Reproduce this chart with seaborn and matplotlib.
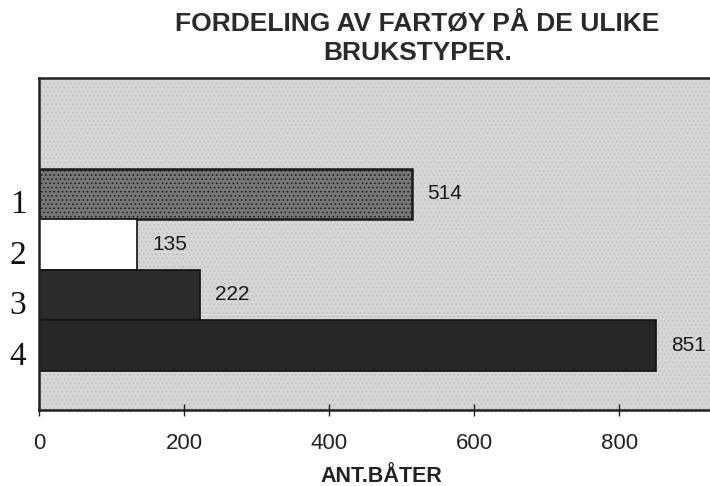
import matplotlib
matplotlib.use("Agg")
import matplotlib.pyplot as plt
from matplotlib.patches import Rectangle
from matplotlib.transforms import ScaledTranslation, blended_transform_factory
import seaborn as sns
import pandas as pd

categories = ["1", "2", "3", "4"]
values = [514, 135, 222, 851]
bar_colors = ["#767676", "#ffffff", "#2b2b2b", "#262626"]

title = "FORDELING AV FARTØY PÅ DE ULIKE\nBRUKSTYPER."
xlabel = "ANT.BÅTER"
xticks = [0, 200, 400, 600, 800]

sns.set_theme(style="white")
plt.rcParams["font.family"] = ["Liberation Sans", "DejaVu Sans"]
plt.rcParams["hatch.linewidth"] = 0.6

df = pd.DataFrame({"cat": categories, "val": values})

fig = plt.figure(figsize=(7.1, 4.86), dpi=100)
fig.patch.set_facecolor("white")
ax = fig.add_axes([0.055, 0.156, 0.945, 0.684])
ax.set_facecolor("#d4d4d4")
ax.add_patch(Rectangle((0, 0), 1, 1, transform=ax.transAxes, facecolor="#d6d6d6",
                       edgecolor="#bcbcbc", hatch="....", linewidth=0, zorder=0))

sns.barplot(data=df, y="cat", x="val", hue="cat", palette=bar_colors,
            order=categories, hue_order=categories, orient="h",
            width=1.0, dodge=False, legend=False, ax=ax,
            edgecolor="#111111", linewidth=1.2, zorder=2)

for p in ax.patches:
    if isinstance(p, Rectangle) and p.get_width() == values[0]:
        p.set_hatch("....")
        p.set_edgecolor("#1a1a1a")
        p.set_linewidth(1.8)

for c in ax.containers:
    ax.bar_label(c, labels=[str(int(b.get_width())) for b in c],
                 padding=11, fontsize=15, color="#1a1a1a")

ax.set_xlim(0, 925)
ax.set_ylim(4.28, -2.3)
ax.set_xticks(xticks)
ax.set_xticklabels([str(t) for t in xticks], fontsize=16, color="#222222")
ax.set_yticks(range(len(categories)))
ax.set_yticklabels([])
ax.tick_params(axis="y", length=0)
# category labels, drawn slightly below each bar's centre as in the scan
lab_tr = blended_transform_factory(ax.transAxes, ax.transData) + \
    ScaledTranslation(-0.21, -0.11, fig.dpi_scale_trans)
for i, cat in enumerate(categories):
    ax.text(0, i, cat, transform=lab_tr, ha="center", va="center",
            fontsize=24, family="Liberation Serif", color="#111111")

ax.tick_params(axis="x", length=9, width=1, direction="inout", pad=12, bottom=True, colors="#222222")
ax.set_xlabel(xlabel, fontsize=15.5, fontweight="bold", color="#222222", va="center")
ax.xaxis.set_label_coords(0.51, -0.199)
ax.set_ylabel("")

for side in ["top", "left", "bottom"]:
    ax.spines[side].set_visible(True)
    ax.spines[side].set_color("#222222")
    ax.spines[side].set_linewidth(1.8)
ax.spines["right"].set_visible(False)

fig.text(0.588, 0.976, title, ha="center", va="top", fontsize=19,
         fontweight="bold", color="#2a2a2a", linespacing=1.28)

fig.savefig("out.png", dpi=100)
